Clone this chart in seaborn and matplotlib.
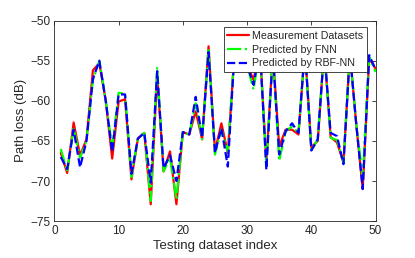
import matplotlib

matplotlib.use("Agg")

import matplotlib.pyplot as plt
import numpy as np
import pandas as pd
import seaborn as sns

sns.set_theme(style="white")
plt.rcParams["font.family"] = ["Liberation Sans", "DejaVu Sans"]

index = list(range(1, 51))

measured = [
    -66.5, -69.0, -62.7, -66.8, -64.8, -56.2, -55.3, -60.0, -67.2, -60.1,
    -59.8, -69.8, -64.7, -64.0, -72.9, -56.8, -68.8, -66.3, -72.9, -63.9,
    -64.2, -61.3, -64.8, -53.2, -66.3, -62.8, -66.5, -54.5, -53.0, -55.5,
    -57.4, -53.5, -67.6, -54.0, -65.7, -63.6, -63.6, -64.2, -53.5, -65.8,
    -65.0, -53.5, -64.5, -65.2, -67.7, -54.0, -63.0, -71.0, -54.7, -56.0,
]
fnn = [
    -66.0, -68.8, -63.4, -67.1, -65.0, -57.4, -55.0, -60.0, -65.8, -59.0,
    -59.1, -69.5, -64.7, -64.0, -72.5, -55.8, -68.8, -67.1, -72.3, -63.9,
    -64.2, -60.3, -64.8, -53.4, -66.7, -63.6, -66.3, -54.5, -53.0, -55.5,
    -58.6, -53.5, -68.0, -54.0, -67.5, -63.8, -63.2, -64.0, -53.5, -66.2,
    -64.8, -53.5, -64.6, -64.9, -67.7, -54.0, -63.0, -69.5, -54.5, -56.4,
]
rbf = [
    -67.0, -68.5, -63.6, -68.3, -65.0, -57.3, -55.0, -60.0, -66.4, -59.2,
    -59.2, -69.1, -64.7, -64.0, -70.2, -56.3, -68.4, -66.8, -70.0, -63.9,
    -64.2, -59.5, -64.6, -53.9, -66.5, -63.4, -68.2, -54.5, -53.0, -55.5,
    -58.0, -53.5, -68.6, -54.0, -66.7, -63.8, -62.8, -64.0, -53.5, -66.2,
    -64.8, -53.5, -64.0, -64.4, -67.9, -54.0, -63.0, -71.0, -54.3, -56.1,
]

series = [
    ("Measurement Datasets", measured, "#ff0000", "-"),
    ("Predicted by FNN", fnn, "#00ff00", "-."),
    ("Predicted by RBF-NN", rbf, "#0000ff", "--"),
]

fig = plt.figure(figsize=(4.15, 2.58), dpi=100)
ax = fig.add_axes([0.131, 0.143, 0.774, 0.777])

for name, values, color, style in series:
    df = pd.DataFrame({"idx": index, "loss": values})
    sns.lineplot(data=df, x="idx", y="loss", color=color, linestyle=style,
                 linewidth=1.6, label=name, ax=ax)

ax.set_xlim(0, 50)
ax.set_ylim(-75, -50)
ax.set_xticks([0, 10, 20, 30, 40, 50])
ax.set_yticks([-75, -70, -65, -60, -55, -50])
ax.set_xlabel("Testing dataset index", fontsize=9.5, color="#262626", labelpad=2)
ax.set_ylabel("Path loss (dB)", fontsize=9.5, color="#262626", labelpad=2)
ax.tick_params(direction="in", length=3, width=0.6, labelsize=8.5,
               colors="#262626", top=True, right=True, pad=3)
for spine in ax.spines.values():
    spine.set_color("#262626")
    spine.set_linewidth(0.6)

leg = ax.legend(loc="upper right", bbox_to_anchor=(0.973, 0.968), fontsize=7.7,
                frameon=True, fancybox=False, framealpha=1.0,
                handlelength=2.0, borderpad=0.35, labelspacing=0.35,
                handletextpad=0.3, borderaxespad=0.0)
leg.get_frame().set_edgecolor("#262626")
leg.get_frame().set_linewidth(0.6)

fig.savefig("out.png", dpi=100)
